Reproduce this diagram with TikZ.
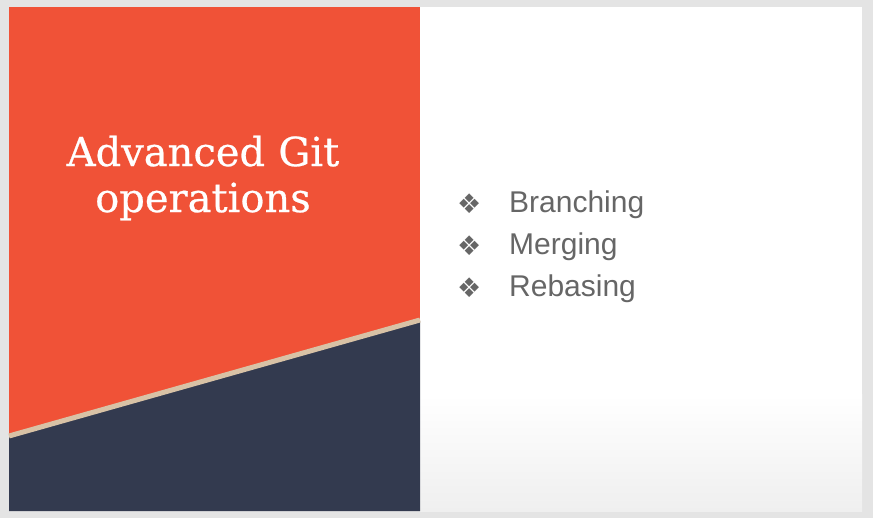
\documentclass[tikz,border=0pt]{standalone}
\usepackage{fontspec}
\setmainfont{DejaVu Serif}
\newfontfamily\bulletfont{Liberation Sans}
\newfontfamily\symfont{DejaVu Sans}
\definecolor{bggray}{HTML}{E4E4E4}
\definecolor{slideorange}{HTML}{F05237}
\definecolor{slidenavy}{HTML}{333A4F}
\definecolor{slidebeige}{HTML}{D8C2A6}
\definecolor{textgray}{HTML}{666666}
\definecolor{bottomgray}{HTML}{EFEFEF}
\tikzset{
  titletext/.style={text=white, font=\fontsize{40}{46}\selectfont, align=center, inner sep=0pt},
  bullettext/.style={text=textgray, font=\bulletfont\fontsize{30}{36}\selectfont, anchor=base west, inner sep=0pt},
  bulletmark/.style={text=textgray, font=\symfont\fontsize{27}{30}\selectfont, anchor=base west, inner sep=0pt}
}
\begin{document}
\begin{tikzpicture}[x=1pt,y=-1pt]
\useasboundingbox (0,0) rectangle (873,518);
\fill[bggray] (0,0) rectangle (873,518);
% right white panel with slight gradient at bottom
\fill[white] (420,7) rectangle (862,511);
\shade[top color=white, bottom color=bottomgray] (420,395) rectangle (862,511);
% left panel
\fill[slideorange] (9,7) rectangle (420,511);
\fill[slidenavy] (9,437) -- (420,321) -- (420,511) -- (9,511) -- cycle;
\draw[slidebeige, line width=5pt] (9,436) -- (420,320);
% title
\node[titletext, text width=340pt] (title) at (203,178) {\addfontfeatures{FakeBold=0.6}Advanced Git\\operations};
% bullets
\node[bulletmark] (m1) at (457,214) {❖};
\node[bullettext] (b1) at (509,213) {Branching};
\node[bulletmark] (m2) at (457,256) {❖};
\node[bullettext] (b2) at (509,255) {Merging};
\node[bulletmark] (m3) at (457,298) {❖};
\node[bullettext] (b3) at (509,297) {Rebasing};
\end{tikzpicture}
\end{document}
